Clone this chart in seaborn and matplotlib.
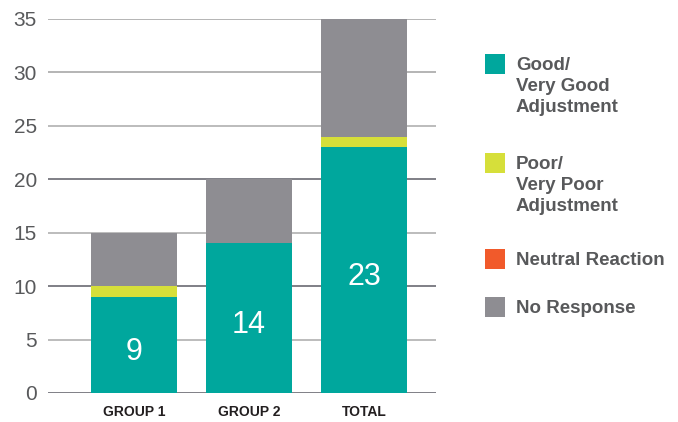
import matplotlib
matplotlib.use("Agg")
import matplotlib.pyplot as plt
from matplotlib.patches import Rectangle
import seaborn as sns
import pandas as pd
import numpy as np

# Survey responses per group
groups = ["GROUP 1", "GROUP 2", "TOTAL"]
good = [9, 14, 23]
poor = [1, 0, 1]
neutral = [0, 0, 0]
no_response = [5, 6, 11]

series_names = ["Good/\nVery Good\nAdjustment", "Poor/\nVery Poor\nAdjustment",
                "Neutral Reaction", "No Response"]
series_colors = ["#00A79D", "#D6DF3A", "#F15A2B", "#8E8D92"]
yticks = [0, 5, 10, 15, 20, 25, 30, 35]

sns.set_theme(style="white")
plt.rcParams["font.family"] = ["Liberation Sans", "DejaVu Sans"]

fig = plt.figure(figsize=(6.78, 4.22), dpi=100)
ax = fig.add_axes([48 / 678, 1 - 393 / 422, 388 / 678, 374 / 422])

# Stacked bars drawn as overlapping cumulative totals, tallest first
layers = np.array([good, poor, neutral, no_response], dtype=float)
cum = np.cumsum(layers, axis=0)
for k in range(3, -1, -1):
    df = pd.DataFrame({"group": groups, "value": cum[k]})
    sns.barplot(data=df, x="group", y="value", order=groups,
                color=series_colors[k], saturation=1, width=0.75,
                linewidth=0, ax=ax, zorder=2)

# Value labels inside the "Good" segment
for i, v in enumerate(good):
    ax.annotate(str(v), xy=(i, v / 2), xytext=(0, -5), textcoords="offset points",
                ha="center", va="center", color="white", fontsize=22, zorder=3)

ax.set_ylim(0, 35)
ax.set_xlim(-0.748, 2.626)
ax.set_yticks(yticks)
ax.set_xlabel("")
ax.set_ylabel("")
for s in ax.spines.values():
    s.set_visible(False)

# Horizontal gridlines behind the bars
grid_colors = {0: "#5d5d66", 5: "#a9a9a9", 10: "#5d5d66", 15: "#a9a9a9",
               20: "#5d5d66", 25: "#a9a9a9", 30: "#a0a0a0", 35: "#a0a0a0"}
for t in yticks:
    ax.axhline(t, color=grid_colors[t], linewidth=1.1, zorder=0)

ax.tick_params(axis="y", length=0, pad=8, labelsize=15, labelcolor="#58595b")
ax.tick_params(axis="x", length=0, pad=9, labelsize=10, labelcolor="#231f20")
for lab in ax.get_xticklabels():
    lab.set_fontweight("bold")

# Legend: colour squares with multi-line bold labels
W, H = 678, 422
square_tops = [54, 153, 249, 297]
for name, color, top in zip(series_names, series_colors, square_tops):
    fig.add_artist(Rectangle((485 / W, 1 - (top + 20) / H), 20 / W, 20 / H,
                             transform=fig.transFigure, color=color, lw=0))
    fig.text(516 / W, 1 - (top + 3) / H, name, ha="left", va="top",
             fontsize=13.5, fontweight="bold", color="#58595b", linespacing=1.32)

fig.savefig("out.png", dpi=100)
